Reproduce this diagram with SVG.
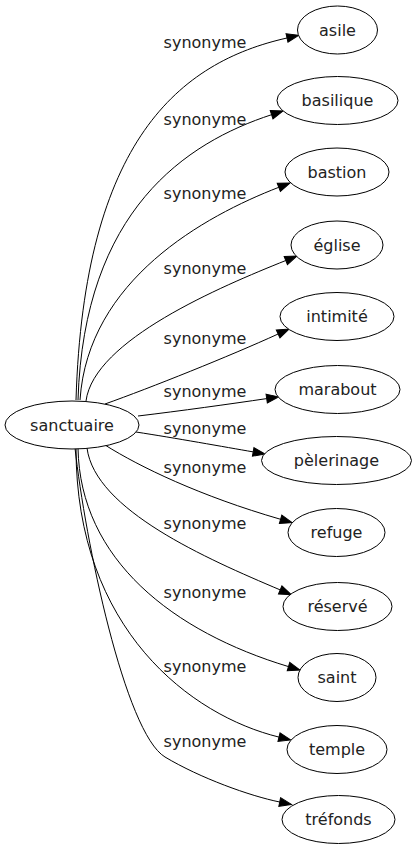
<svg xmlns="http://www.w3.org/2000/svg" width="416" height="851" viewBox="0 0 416 851">
<style>
  .node ellipse { fill: #fff; stroke: #000; stroke-width: 1; }
  text { font-family: "DejaVu Sans", sans-serif; font-size: 16px; fill: #222; text-anchor: middle; }
  .edge path { fill: none; stroke: #000; stroke-width: 1; marker-end: url(#arr); }
</style>
<defs>
  <marker id="arr" markerWidth="13" markerHeight="10" refX="0" refY="5" orient="auto" markerUnits="userSpaceOnUse" overflow="visible">
    <path d="M0,0.6 L12,5 L0,9.4 z" fill="#000" stroke="#000" stroke-width="1"/>
  </marker>
</defs>
<rect width="416" height="851" fill="#fff"/>
<g id="connectors" class="edge">
  <path d="M76,400 C84,140 180,62 287,38"/>
  <path d="M78,400 C84,210 186.1,142.6 271.6,114.7"/>
  <path d="M80,400 C88,280 204.4,216.1 278.8,187.3"/>
  <path d="M86,401 C94,340 220.7,286.6 285.8,260.5"/>
  <path d="M105,404 C150,388 230,356 278.1,334"/>
  <path d="M138,416 C180,411 230,404 266.7,398.6"/>
  <path d="M136,432 C175,438 225,447 253.2,451.9"/>
  <path d="M105,445 C140,467 200,496 280.6,519.3"/>
  <path d="M87,448 C95,510 206.5,558.7 280.2,589.9"/>
  <path d="M78,448 C80,560 173.5,631.9 288.5,666.6"/>
  <path d="M76,448 C76,630 191.6,715.7 279,737.1"/>
  <path d="M75,448 C85,540 125,733 165,757 C200,778 250,796 279.7,802"/>
  <text x="205" y="48">synonyme</text>
  <text x="205" y="125">synonyme</text>
  <text x="205" y="199">synonyme</text>
  <text x="205" y="274">synonyme</text>
  <text x="205" y="344">synonyme</text>
  <text x="205" y="397">synonyme</text>
  <text x="205" y="434">synonyme</text>
  <text x="205" y="473">synonyme</text>
  <text x="205" y="529">synonyme</text>
  <text x="205" y="598">synonyme</text>
  <text x="205" y="672">synonyme</text>
  <text x="205" y="747">synonyme</text>
</g>
<g id="sanctuaire" class="node"><ellipse cx="72" cy="425" rx="67" ry="24"/><text x="72" y="430.5">sanctuaire</text></g>
<g id="asile" class="node"><ellipse cx="337.5" cy="30" rx="40" ry="24"/><text x="337.5" y="35.5">asile</text></g>
<g id="basilique" class="node"><ellipse cx="337.5" cy="100.5" rx="60.5" ry="24"/><text x="337.5" y="106">basilique</text></g>
<g id="bastion" class="node"><ellipse cx="337" cy="172" rx="52" ry="24"/><text x="337" y="177.5">bastion</text></g>
<g id="eglise" class="node"><ellipse cx="337" cy="245" rx="46" ry="24"/><text x="337" y="250.5">église</text></g>
<g id="intimite" class="node"><ellipse cx="337" cy="316.5" rx="57" ry="24"/><text x="337" y="322">intimité</text></g>
<g id="marabout" class="node"><ellipse cx="337.5" cy="389.5" rx="62.5" ry="24"/><text x="337.5" y="395">marabout</text></g>
<g id="pelerinage" class="node"><ellipse cx="336.5" cy="460.5" rx="75" ry="24"/><text x="336.5" y="466">pèlerinage</text></g>
<g id="refuge" class="node"><ellipse cx="336.5" cy="532.5" rx="48.5" ry="24"/><text x="336.5" y="538">refuge</text></g>
<g id="reserve" class="node"><ellipse cx="337.5" cy="606.5" rx="54.5" ry="24"/><text x="337.5" y="612">réservé</text></g>
<g id="saint" class="node"><ellipse cx="337" cy="677.5" rx="39" ry="24"/><text x="337" y="683">saint</text></g>
<g id="temple" class="node"><ellipse cx="337" cy="749.5" rx="50" ry="24"/><text x="337" y="755">temple</text></g>
<g id="trefonds" class="node"><ellipse cx="338.5" cy="819.5" rx="56.5" ry="24"/><text x="338.5" y="825">tréfonds</text></g>
</svg>
